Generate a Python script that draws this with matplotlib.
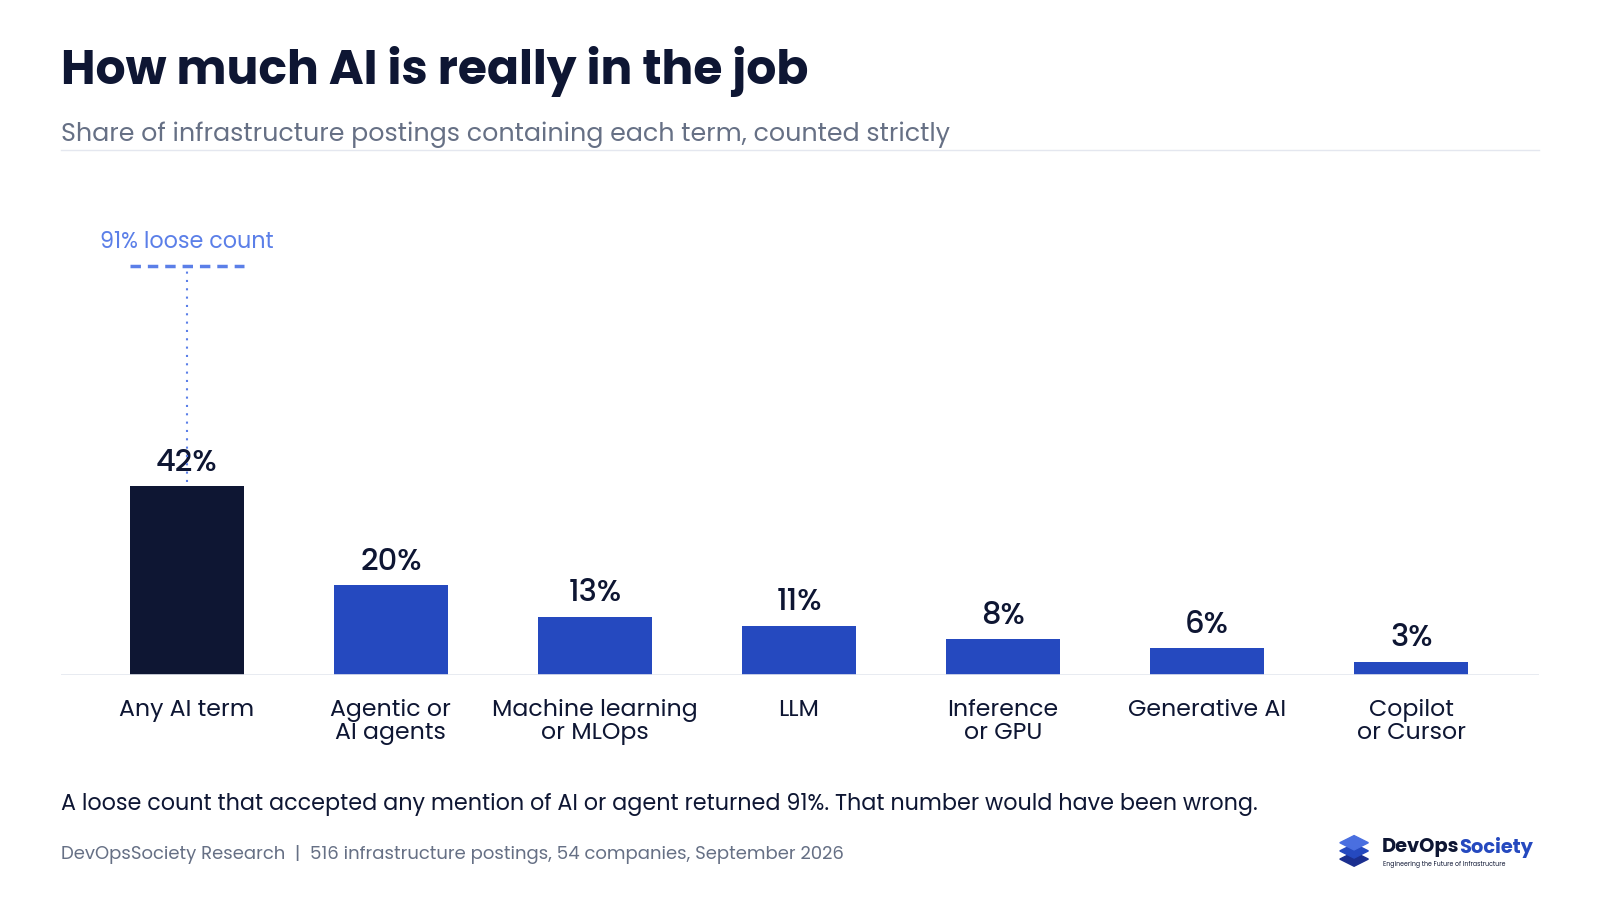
import matplotlib
matplotlib.use("Agg")
import matplotlib.pyplot as plt
from matplotlib.patches import Polygon

categories = ["Any AI term", "Agentic or\nAI agents", "Machine learning\nor MLOps", "LLM",
              "Inference\nor GPU", "Generative AI", "Copilot\nor Cursor"]
values = [42, 20, 13, 11, 8, 6, 3]
loose_value = 91

plt.rcParams['font.family'] = ['Poppins', 'Inter', 'DejaVu Sans']
W, H = 1568, 880
fig = plt.figure(figsize=(16, 9), dpi=100)
fig.patch.set_facecolor("white")

def fx(x): return x / W
def fy(y): return 1 - y / H

dark = "#0e1633"
blue = "#2549bf"
grey = "#667085"

fig.text(fx(60), fy(70), "How much AI is really in the job", fontsize=34, fontweight="bold",
         color=dark, va="center", ha="left")
fig.text(fx(60), fy(132), "Share of infrastructure postings containing each term, counted strictly",
         fontsize=18.2, color=grey, va="center", ha="left")
fig.add_artist(plt.Line2D([fx(60), fx(1508)], [fy(147), fy(147)], color="#e4e7ef", lw=1))

ax = fig.add_axes([fx(60), fy(660), fx(1448), 440 / H])
x = list(range(len(values)))
colors = [dark] + [blue] * (len(values) - 1)
ax.bar(x, values, width=0.56, color=colors, zorder=2)
for xi, v in zip(x, values):
    ax.text(xi, v + 1.6, f"{v}%", ha="center", va="bottom", fontsize=22, color=dark, fontweight="medium")
ax.set_xlim(-0.615, 6.625)
ax.set_ylim(0, 100)
ax.axhline(0, color="#e4e7ef", lw=1.2, zorder=3)
ax.plot([-0.28, 0.28], [loose_value, loose_value], color="#5b7fe8", lw=2.5, ls=(0, (3, 2)), zorder=3)
ax.plot([0, 0], [43, loose_value], color="#5b7fe8", lw=1.5, ls=(0, (1, 3)), zorder=3)
ax.text(0, loose_value + 2.6, f"{loose_value}% loose count", ha="center", va="bottom",
        fontsize=16, color="#5b7fe8")
ax.set_xticks(x)
ax.set_xticklabels(categories, fontsize=17, color=dark, linespacing=1.0)
ax.tick_params(axis="x", length=0, pad=17)
ax.set_yticks([])
for s in ax.spines.values():
    s.set_visible(False)
ax.set_facecolor("none")

fig.text(fx(60), fy(787), "A loose count that accepted any mention of AI or agent returned 91%. That number would have been wrong.",
         fontsize=16, color=dark, va="center", ha="left")
fig.text(fx(60), fy(836), "DevOpsSociety Research  |  516 infrastructure postings, 54 companies, September 2026",
         fontsize=13, color=grey, va="center", ha="left")

# logo
cx, cy = 1327, 832
for i, col in enumerate(["#1b2f8f", "#2549bf", "#4a6fe0"]):
    yy = cy + 8 - i * 8
    fig.add_artist(Polygon([(fx(cx - 14), fy(yy)), (fx(cx), fy(yy - 7)), (fx(cx + 14), fy(yy)), (fx(cx), fy(yy + 7))],
                           closed=True, color=col, transform=fig.transFigure))
t1 = fig.text(fx(1354), fy(829), "DevOps", fontsize=14, fontweight="bold", color=dark, va="center", ha="left")
fig.canvas.draw()
bb = t1.get_window_extent().transformed(fig.transFigure.inverted())
fig.text(bb.x1, fy(829), "Society", fontsize=14, fontweight="bold", color=blue, va="center", ha="left")
fig.text(fx(1355), fy(845), "Engineering the Future of Infrastructure", fontsize=4.5, color=dark, va="center", ha="left")

fig.savefig("out.png", dpi=100, facecolor="white")
